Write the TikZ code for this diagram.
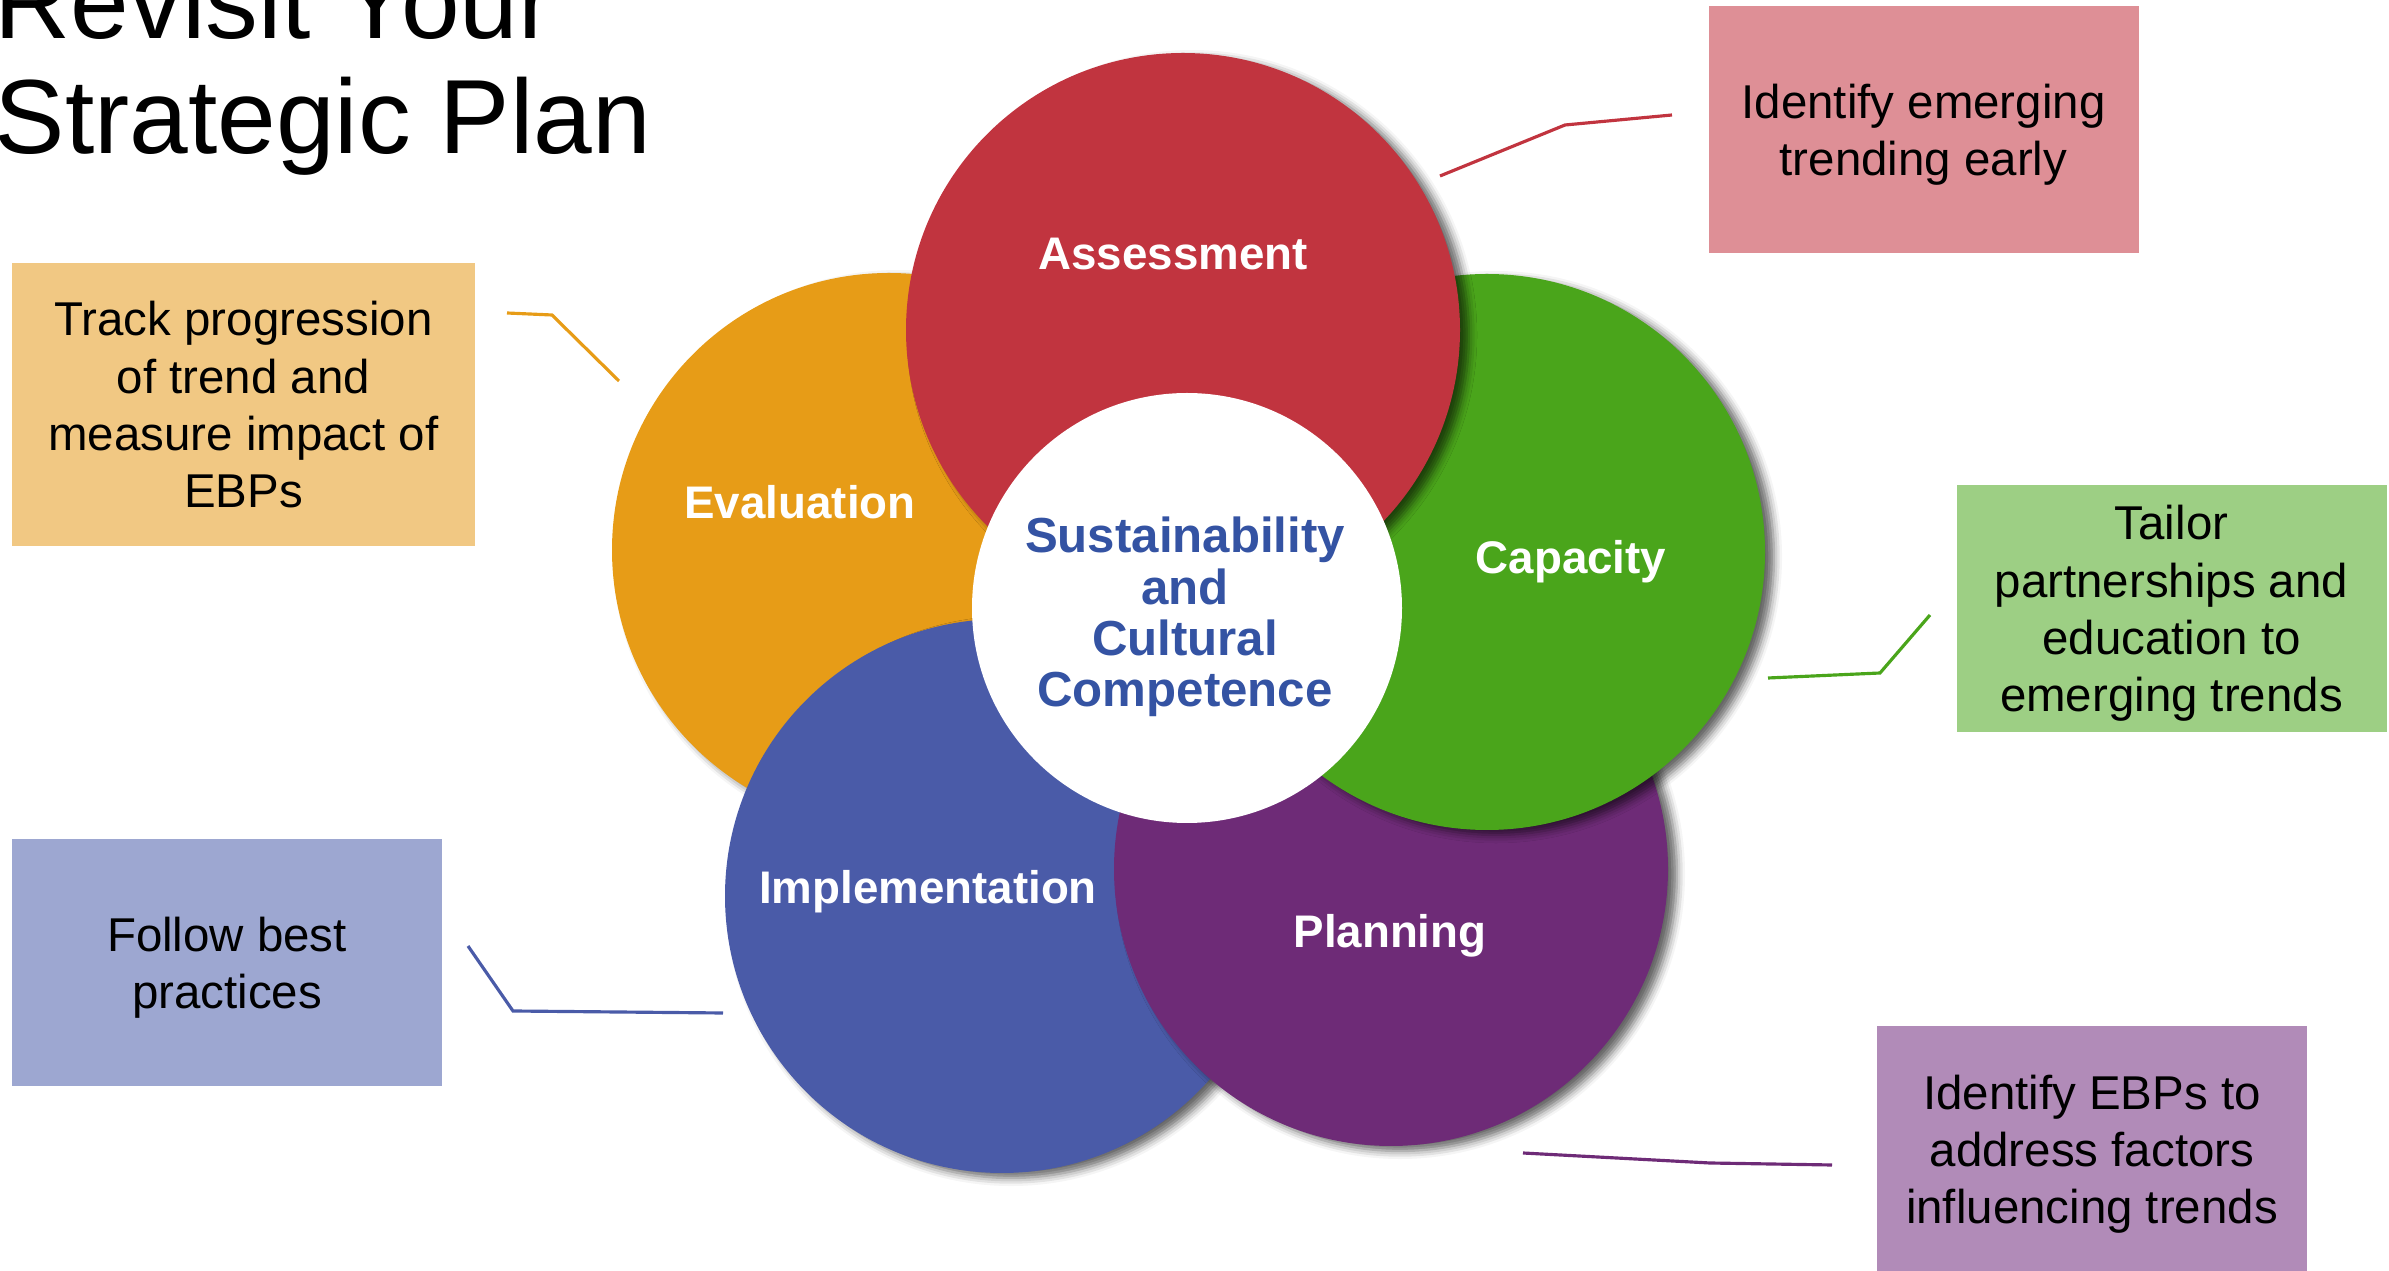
\documentclass[tikz,border=0pt]{standalone}
\usepackage{fontspec}
\setmainfont{Liberation Sans}
\usetikzlibrary{shadows.blur}

\definecolor{assessred}{RGB}{193,52,63}
\definecolor{evalorange}{RGB}{231,156,23}
\definecolor{capgreen}{RGB}{74,165,27}
\definecolor{implblue}{RGB}{74,91,168}
\definecolor{planpurple}{RGB}{110,43,119}
\definecolor{coreblue}{RGB}{52,83,163}
\definecolor{idpink}{RGB}{222,143,150}
\definecolor{trackorange}{RGB}{241,200,131}
\definecolor{tailorgreen}{RGB}{157,207,132}
\definecolor{followlav}{RGB}{157,167,209}
\definecolor{ebppurple}{RGB}{177,139,184}

\begin{document}
\begin{tikzpicture}[x=1cm,y=-1cm,
    petal/.style={circle,inner sep=0pt,minimum size=5.54cm,
      blur shadow={shadow xshift=0.09cm,shadow yshift=-0.05cm,
        shadow blur radius=0.08cm,shadow opacity=60}},
    petaltext/.style={text=white,anchor=base,
      font=\bfseries\fontsize{13}{15}\selectfont},
    notebox/.style={inner sep=0pt,minimum width=4.3cm,minimum height=2.47cm,
      align=center,text depth=0pt,font=\fontsize{13.5}{16.3}\selectfont},
    leader/.style={line width=0.9pt}]
    \useasboundingbox (0,0) rectangle (23.89,12.71);

    % heading, partly off the top edge
    \node[anchor=base west,align=left,inner sep=0pt,
      font=\fontsize{30}{33}\selectfont] (title) at (-0.06,1.54)
      {Revisit Your\\Strategic Plan};

    % the five petals, back to front
    \node[petal,fill=evalorange] (eval) at (8.89,5.50) {};
    \node[petal,fill=implblue] (impl) at (10.02,8.96) {};
    \node[petal,fill=planpurple] (plan) at (13.91,8.69) {};
    \node[petal,fill=capgreen,minimum size=5.56cm] (capac) at (14.87,5.52) {};
    \node[petal,fill=assessred] (assess) at (11.83,3.30) {};
    \node[circle,fill=white,inner sep=0pt,minimum size=4.30cm] (core) at (11.87,6.08) {};

    \node[petaltext] (assesslbl) at (11.73,2.70) {Assessment};
    \node[petaltext] (evallbl) at (8.00,5.19) {Evaluation};
    \node[petaltext] (caplbl) at (15.71,5.74) {Capacity};
    \node[petaltext] (impllbl) at (9.28,9.04) {Implementation};
    \node[petaltext] (planlbl) at (13.90,9.48) {Planning};
    \node[align=center,text=coreblue,font=\bfseries\fontsize{14}{14.6}\selectfont]
      (corelbl) at (11.85,6.17) {Sustainability\\and\\Cultural\\Competence};

    % notes
    \node[notebox,fill=idpink] (idbox) at (19.235,1.295)
      {Identify emerging\\trending early};
    \node[notebox,fill=trackorange,minimum width=4.63cm,minimum height=2.83cm]
      (trackbox) at (2.435,4.045)
      {Track progression\\of trend and\\measure impact of\\EBPs};
    \node[notebox,fill=tailorgreen] (tailorbox) at (21.715,6.085)
      {Tailor\\partnerships and\\education to\\emerging trends};
    \node[notebox,fill=followlav] (followbox) at (2.27,9.63)
      {Follow best\\practices};
    \node[notebox,fill=ebppurple] (ebpbox) at (20.92,11.495)
      {Identify EBPs to\\address factors\\influencing trends};

    % leader lines between petals and notes
    \coordinate (assess-a) at (14.40,1.76);
    \coordinate (assess-b) at (15.65,1.25);
    \coordinate (assess-c) at (16.72,1.15);
    \coordinate (eval-a) at (6.19,3.81);
    \coordinate (eval-b) at (5.52,3.15);
    \coordinate (eval-c) at (5.07,3.13);
    \coordinate (cap-a) at (17.68,6.78);
    \coordinate (cap-b) at (18.80,6.73);
    \coordinate (cap-c) at (19.30,6.15);
    \coordinate (impl-a) at (7.23,10.13);
    \coordinate (impl-b) at (5.13,10.11);
    \coordinate (impl-c) at (4.68,9.46);
    \coordinate (plan-a) at (15.23,11.53);
    \coordinate (plan-b) at (17.10,11.63);
    \coordinate (plan-c) at (18.32,11.65);

    \draw[leader,assessred] (assess-a) -- (assess-b) -- (assess-c);
    \draw[leader,evalorange] (eval-a) -- (eval-b) -- (eval-c);
    \draw[leader,capgreen] (cap-a) -- (cap-b) -- (cap-c);
    \draw[leader,implblue] (impl-a) -- (impl-b) -- (impl-c);
    \draw[leader,planpurple] (plan-a) -- (plan-b) -- (plan-c);
\end{tikzpicture}
\end{document}
